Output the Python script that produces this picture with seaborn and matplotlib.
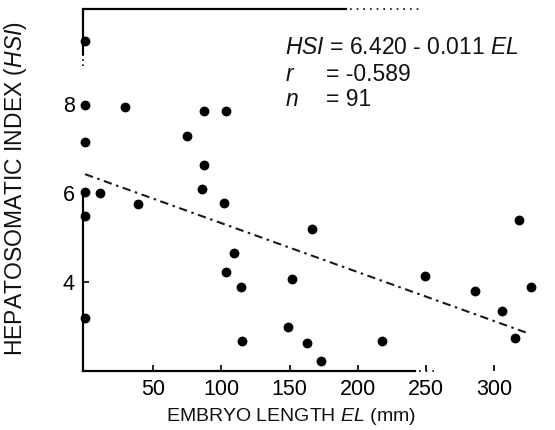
import matplotlib
matplotlib.use("Agg")
import matplotlib.pyplot as plt
import seaborn as sns
import numpy as np
import pandas as pd

# ---- data ----
embryo_length = [0, 0, 29, 87, 103, 0, 75, 87, 86, 0, 11, 39, 102,
                 0, 109, 103, 114, 0, 115,
                 166, 152, 149, 163, 173,
                 318, 249, 286, 327, 306, 315, 218]
hsi = [9.42, 7.98, 7.93, 7.85, 7.83, 7.14, 7.27, 6.63, 6.09, 6.01, 5.99, 5.75, 5.77,
       5.47, 4.66, 4.23, 3.89, 3.18, 2.68,
       5.19, 4.07, 2.98, 2.64, 2.23,
       5.39, 4.13, 3.80, 3.89, 3.35, 2.75, 2.68]
fit_intercept = 6.420
fit_slope = -0.011
fit_range = [0, 323]
x_ticks = [50, 100, 150, 200, 250, 300]
y_ticks = [4, 6, 8]

sns.set_theme(style="white")
plt.rcParams['font.family'] = ['Liberation Sans', 'DejaVu Sans']
plt.rcParams['mathtext.fontset'] = 'custom'
plt.rcParams['mathtext.rm'] = 'Liberation Sans'
plt.rcParams['mathtext.it'] = 'Liberation Sans:italic'
plt.rcParams['text.color'] = '#111111'

fig = plt.figure(figsize=(5.55, 4.30), dpi=100)
ax = fig.add_axes([83/555, 59/430, 457/555, 362/430])

df = pd.DataFrame({"EL": embryo_length, "HSI": hsi})
sns.scatterplot(data=df, x="EL", y="HSI", ax=ax, color="black", s=50,
                linewidth=0, marker="o", legend=False, clip_on=False, zorder=3)

fit_x = np.array(fit_range, dtype=float)
fit_df = pd.DataFrame({"EL": fit_x, "HSI": fit_intercept + fit_slope * fit_x})
sns.lineplot(data=fit_df, x="EL", y="HSI", ax=ax, color="#1a1a1a",
             linewidth=1.5, dashes=False)
ax.lines[-1].set_linestyle((0, (4, 2.2, 1.2, 2.2)))

XMIN, XMAX, YMIN, YMAX = -1.5, 333.5, 2.0, 10.13
ax.set_xlim(XMIN, XMAX)
ax.set_ylim(YMIN, YMAX)
ax.set_xticks(x_ticks)
ax.set_yticks(y_ticks)
ax.tick_params(axis="both", direction="in", length=4, width=1.2,
               colors="black", labelsize=15.5, pad=6, left=True, bottom=True)

for side in ["left", "bottom", "top"]:
    ax.spines[side].set_visible(True)
    ax.spines[side].set_color("black")
    ax.spines[side].set_linewidth(1.6)
ax.spines["right"].set_visible(False)
ax.spines["top"].set_bounds(XMIN, 191)
ax.spines["bottom"].set_bounds(XMIN, 242)
ax.spines["left"].set_bounds(YMIN, 6.05)
# broken pieces of the scanned frame
ax.hlines(YMAX, 194, 246, colors="black", linewidth=1.2,
          linestyles=(0, (1, 3)), clip_on=False)
ax.hlines(YMIN, 245, 256, colors="black", linewidth=1.2,
          linestyles=(0, (1, 3)), clip_on=False)
ax.vlines(XMIN, 9.1, YMAX, colors="black", linewidth=1.6, clip_on=False)
ax.vlines(XMIN, 8.85, 9.1, colors="black", linewidth=1.2,
          linestyles=(0, (1, 2)), clip_on=False)

ax.set_xlabel(r"EMBRYO LENGTH $\mathit{EL}$ (mm)", fontsize=14, color="#111111")
ax.set_ylabel(r"HEPATOSOMATIC INDEX ($\mathit{HSI}$)", fontsize=16.5, color="#111111")
ax.xaxis.set_label_coords(0.455, -0.096)
ax.yaxis.set_label_coords(-0.118, 0.505)

tx = 0.442
tx2 = 0.532
fs = 16.5
ax.text(tx, 0.895, r"$\mathit{HSI}$ = 6.420 - 0.011 $\mathit{EL}$", transform=ax.transAxes,
        fontsize=fs, va="center", ha="left")
ax.text(tx, 0.818, r"$\mathit{r}$", transform=ax.transAxes, fontsize=fs, va="center", ha="left")
ax.text(tx2, 0.818, "= -0.589", transform=ax.transAxes, fontsize=fs, va="center", ha="left")
ax.text(tx, 0.749, r"$\mathit{n}$", transform=ax.transAxes, fontsize=fs, va="center", ha="left")
ax.text(tx2, 0.749, "= 91", transform=ax.transAxes, fontsize=fs, va="center", ha="left")

fig.savefig("out.png", dpi=100)
